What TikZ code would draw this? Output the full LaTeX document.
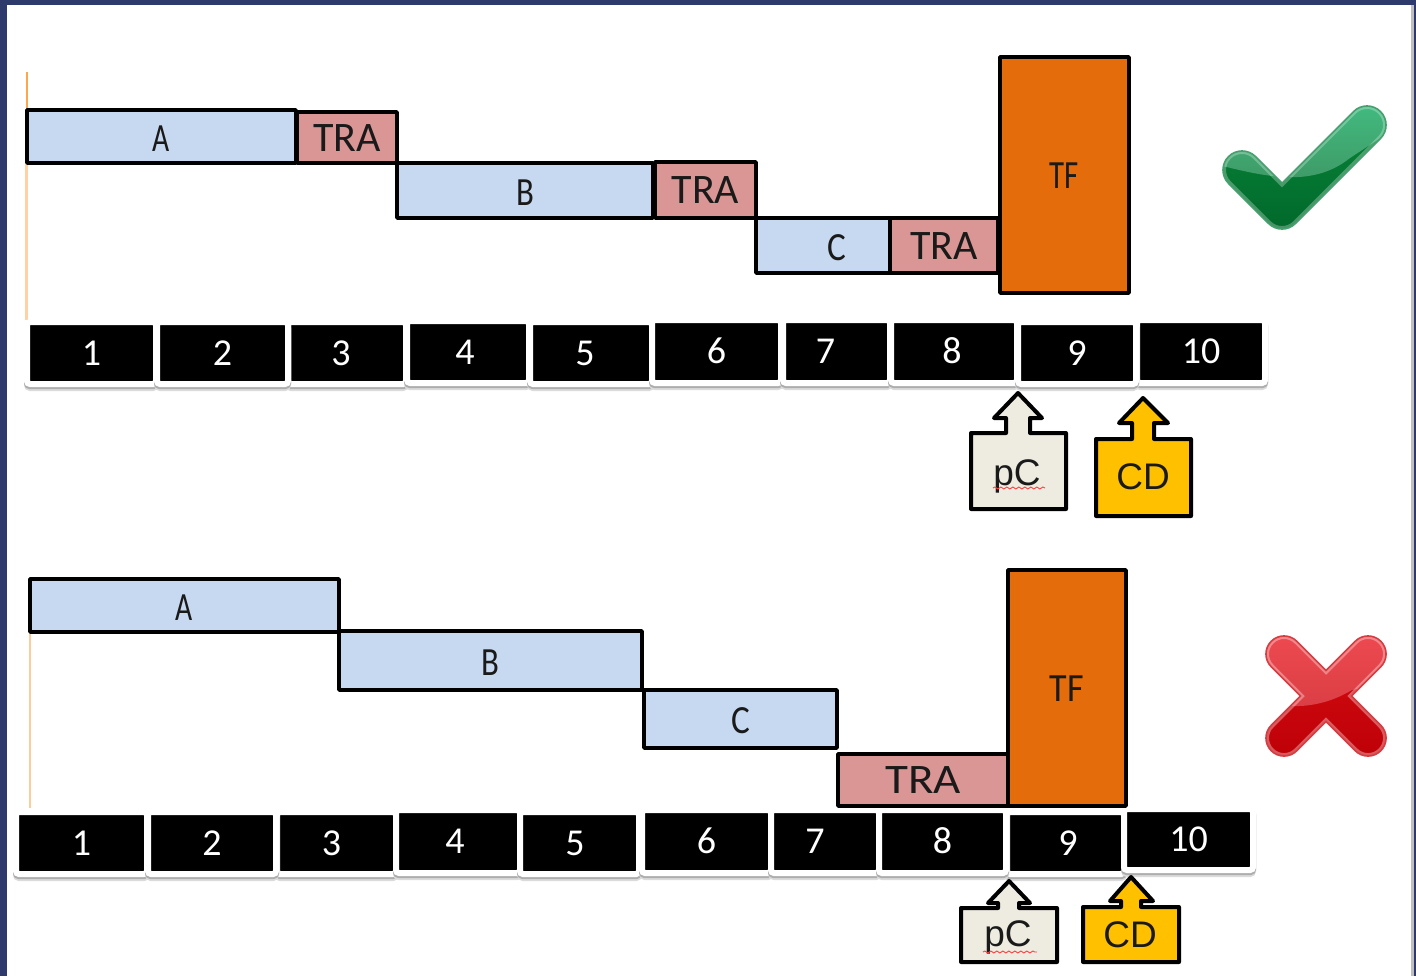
\documentclass[tikz,border=0pt]{standalone}
\usepackage{fontspec}
\setmainfont{Carlito}
\newfontfamily\calloutfont{Liberation Sans}
\usetikzlibrary{decorations.pathmorphing}
\definecolor{framenavy}{HTML}{2D3A6B}
\definecolor{barblue}{HTML}{C6D9F1}
\definecolor{trared}{HTML}{D99694}
\definecolor{tforange}{HTML}{E46C0A}
\definecolor{pcbeige}{HTML}{EEECE1}
\definecolor{cdgold}{HTML}{FFC000}
\definecolor{chkbasetop}{HTML}{0A8A3C}
\definecolor{chkbasebot}{HTML}{00662A}
\definecolor{chkglosstop}{HTML}{42BE82}
\definecolor{chkglossbot}{HTML}{3E9664}
\definecolor{chkedge}{HTML}{46A06E}
\definecolor{crsbasetop}{HTML}{D60E14}
\definecolor{crsbasebot}{HTML}{BC0006}
\definecolor{crsglosstop}{HTML}{F04C52}
\definecolor{crsglossbot}{HTML}{DA3E44}
\definecolor{crsedge}{HTML}{D73C41}
\definecolor{inktext}{HTML}{1A1A1A}
\tikzset{
  x=.5pt,y=-.5pt,
  anybar/.style={draw=black,line width=1.75pt,inner sep=0pt,outer sep=0pt,line join=round,text=inktext},
  bluebar/.style={anybar,fill=barblue,font=\fontsize{20}{20}\selectfont,text height=14.5pt,text depth=0pt},
  trabar/.style={anybar,fill=trared,font=\fontsize{21}{21}\selectfont,text height=13.5pt,text depth=0pt},
  tfbar/.style={anybar,fill=tforange,font=\fontsize{20}{20}\selectfont,text height=13.7pt,text depth=0pt},
  numcell/.style={fill=black,draw=white,line width=3pt,rounded corners=1.5pt,inner sep=0pt,outer sep=0pt,
    text=white,font=\fontsize{19}{19}\selectfont,text height=12pt,text depth=0pt,
    preaction={draw=black!14,line width=3pt,rounded corners=1.5pt,transform canvas={yshift=-2pt}},
    preaction={draw=black!32,line width=3pt,rounded corners=1.5pt,transform canvas={yshift=-1.1pt}}},
  callout/.style={draw=black,line width=2pt,line join=round},
  callouttext/.style={inner sep=0pt,text=inktext,font=\calloutfont\fontsize{18.5}{18.5}\selectfont,text height=13.2pt,text depth=0pt},
  squiggle/.style={draw=red!75,line width=.45pt,decorate,decoration={snake,amplitude=.5pt,segment length=3pt}},
  startline/.style={line width=1pt},
  checkshape/.style={insert path={(1242,143.1) [sharp corners] -- (1282,183.1) [rounded corners=9.5pt] -- (1367,98.1) -- (1393.9,125) -- (1282,236.9) -- (1215.1,170) -- cycle}},
  crossshape/.style={insert path={(1284,628.5) [sharp corners] -- (1326,670.5) [rounded corners=9pt] -- (1368,628.5) -- (1393.5,654) [sharp corners] -- (1351.5,696) [rounded corners=9pt] -- (1393.5,738) -- (1368,763.5) [sharp corners] -- (1326,721.5) [rounded corners=9pt] -- (1284,763.5) -- (1258.5,738) [sharp corners] -- (1300.5,696) [rounded corners=9pt] -- (1258.5,654) -- cycle}},
}
\newcommand{\boxat}[7]{%
  \pgfmathsetmacro{\cxx}{(#3+#5)/2}%
  \pgfmathsetmacro{\cyy}{(#4+#6)/2}%
  \pgfmathsetmacro{\wdd}{(#5-#3)*.5}%
  \pgfmathsetmacro{\htt}{(#6-#4)*.5}%
  \node[#2,minimum width=\wdd pt,minimum height=\htt pt] (#1) at (\cxx,\cyy) {#7};}
\newcommand{\cellat}[6]{\boxat{#1}{numcell}{(#2-3)}{(#3-3)}{(#4+3)}{(#5+3)}{#6}}
\newcommand{\xs}[2]{\scalebox{#1}[1]{#2}}
\newcommand{\lft}[2]{#2\hspace*{#1pt}}
\newcommand{\rgt}[2]{\hspace*{#1pt}#2}
\begin{document}
\begin{tikzpicture}
\useasboundingbox (0,0) rectangle (1416,976);
\fill[framenavy] (0,0) rectangle (1416,976);
\fill[white] (7,5) rectangle (1412,976);
\fill[black!25] (1411,5) rectangle (1413.5,976);

% start lines
\coordinate (t0) at (26.5,72); \coordinate (t1) at (26.5,110);
\coordinate (t2) at (26.5,163); \coordinate (t3) at (26.5,320);
\coordinate (b0) at (30,632); \coordinate (b1) at (30,808);
\draw[startline,color=orange!70] (t0) -- (t1);
\draw[startline,color=orange!35,line width=1.3pt] (t2) -- (t3);
\draw[startline,color=orange!40,line width=1.3pt] (b0) -- (b1);

% top bars
\boxat{ta}{bluebar}{27}{110}{296}{163}{\xs{.74}{A}}
\boxat{ttra1}{trabar}{297}{112}{397}{163}{TRA}
\boxat{tb}{bluebar}{397}{163}{653}{218}{\xs{.82}{B}}
\boxat{ttra2}{trabar}{655}{162}{756}{218}{TRA}
\boxat{tc}{bluebar}{756}{218}{890}{273}{\rgt{14}{\xs{.88}{C}}}
\boxat{ttra3}{trabar}{890}{218}{998}{273}{TRA}
\boxat{ttf}{tfbar}{1000}{57}{1129}{293}{\xs{.77}{TF}}

% top ruler
\cellat{tn1}{30}{325}{153}{381}{1}
\cellat{tn3}{291}{325}{403}{381}{\lft{6}{3}}
\cellat{tn2}{160}{325}{285}{381}{2}
\cellat{tn4}{410}{324}{526}{380}{\lft{3}{4}}
\cellat{tn5}{533}{325}{649}{381}{\lft{6}{5}}
\cellat{tn6}{655}{323}{778}{380}{6}
\cellat{tn7}{786}{323}{887}{380}{\lft{11}{7}}
\cellat{tn8}{894}{323}{1014}{380}{\lft{2}{8}}
\cellat{tn10}{1140}{323}{1262}{380}{10}
\cellat{tn9}{1021}{325}{1133}{381}{9}

% top callouts
\draw[callout,fill=pcbeige] (971,433) -- (1006,433) -- (1006,418) -- (994,418) -- (1018,393) -- (1042,418) -- (1030,418) -- (1030,433) -- (1066,433) -- (1066,509) -- (971,509) -- cycle;
\node[callouttext] (tpc) at (1017,472) {pC};
\coordinate (tsq0) at (993,488); \coordinate (tsq1) at (1045,488);
\draw[squiggle] (tsq0) -- (tsq1);
\draw[callout,fill=cdgold] (1096,439) -- (1132,439) -- (1132,423) -- (1119,423) -- (1143,398) -- (1168,423) -- (1154,423) -- (1154,439) -- (1191,439) -- (1191,516) -- (1096,516) -- cycle;
\node[callouttext] (tcd) at (1143,476) {CD};

% bottom ruler
\cellat{bn1}{19}{815}{144}{871}{1}
\cellat{bn3}{280}{815}{393}{871}{\lft{5}{3}}
\cellat{bn2}{151}{815}{273}{871}{2}
\cellat{bn4}{399}{813}{517}{870}{\lft{3}{4}}
\cellat{bn5}{523}{815}{636}{871}{\lft{4.5}{5}}
\cellat{bn6}{645}{813}{768}{870}{6}
\cellat{bn7}{774}{813}{876}{870}{\lft{10}{7}}
\cellat{bn9}{1010}{815}{1121}{871}{\rgt{2.5}{9}}
\cellat{bn8}{882}{813}{1003}{870}{8}
\cellat{bn10}{1127}{812}{1250}{867}{10}

% bottom bars
\boxat{ba}{bluebar}{30}{579}{339}{632}{\xs{.74}{A}}
\boxat{bb}{bluebar}{339}{631}{642}{690}{\xs{.82}{B}}
\boxat{bc}{bluebar}{644}{690}{837}{748}{\xs{.88}{C}}
\boxat{btra}{trabar}{838}{754}{1008}{806}{\xs{1.12}{TRA}}
\boxat{btf}{tfbar}{1008}{570}{1126}{806}{\xs{.9}{TF}}

% bottom callouts
\draw[callout,fill=pcbeige] (961,908) -- (998,908) -- (998,903) -- (988,903) -- (1009,881) -- (1030,903) -- (1019,903) -- (1019,908) -- (1057,908) -- (1057,962) -- (961,962) -- cycle;
\node[callouttext] (bpc) at (1008,933) {pC};
\coordinate (bsq0) at (983,952); \coordinate (bsq1) at (1037,952);
\draw[squiggle] (bsq0) -- (bsq1);
\draw[callout,fill=cdgold] (1083,907) -- (1121,907) -- (1121,901) -- (1110,901) -- (1131,877) -- (1153,901) -- (1141,901) -- (1141,907) -- (1179,907) -- (1179,962) -- (1083,962) -- cycle;
\node[callouttext] (bcd) at (1130,934) {CD};

% check mark
\begin{scope}
  \clip[rounded corners=9.5pt,checkshape];
  \shade[top color=chkbasetop,bottom color=chkbasebot] (1210,95) rectangle (1400,240);
  \shade[top color=chkglosstop,bottom color=chkglossbot]
     (1210,163) .. controls (1260,175) and (1310,190) .. (1350,158) -- (1400,125) -- (1400,95) -- (1210,95) -- cycle;
  \draw[white,opacity=.28,line width=3pt,rounded corners=9.5pt,checkshape];
\end{scope}
\draw[chkedge,line width=.8pt,rounded corners=9.5pt,checkshape];

% cross mark
\begin{scope}
  \clip[rounded corners=9pt,crossshape];
  \shade[top color=crsbasetop,bottom color=crsbasebot] (1250,620) rectangle (1400,770);
  \shade[top color=crsglosstop,bottom color=crsglossbot]
     (1250,708) -- (1290,706) .. controls (1315,707) and (1335,700) .. (1352,690) -- (1400,680) -- (1400,620) -- (1250,620) -- cycle;
  \draw[white,opacity=.35,line width=3pt,rounded corners=9pt,crossshape];
\end{scope}
\draw[crsedge,line width=.8pt,rounded corners=9pt,crossshape];
\end{tikzpicture}
\end{document}
